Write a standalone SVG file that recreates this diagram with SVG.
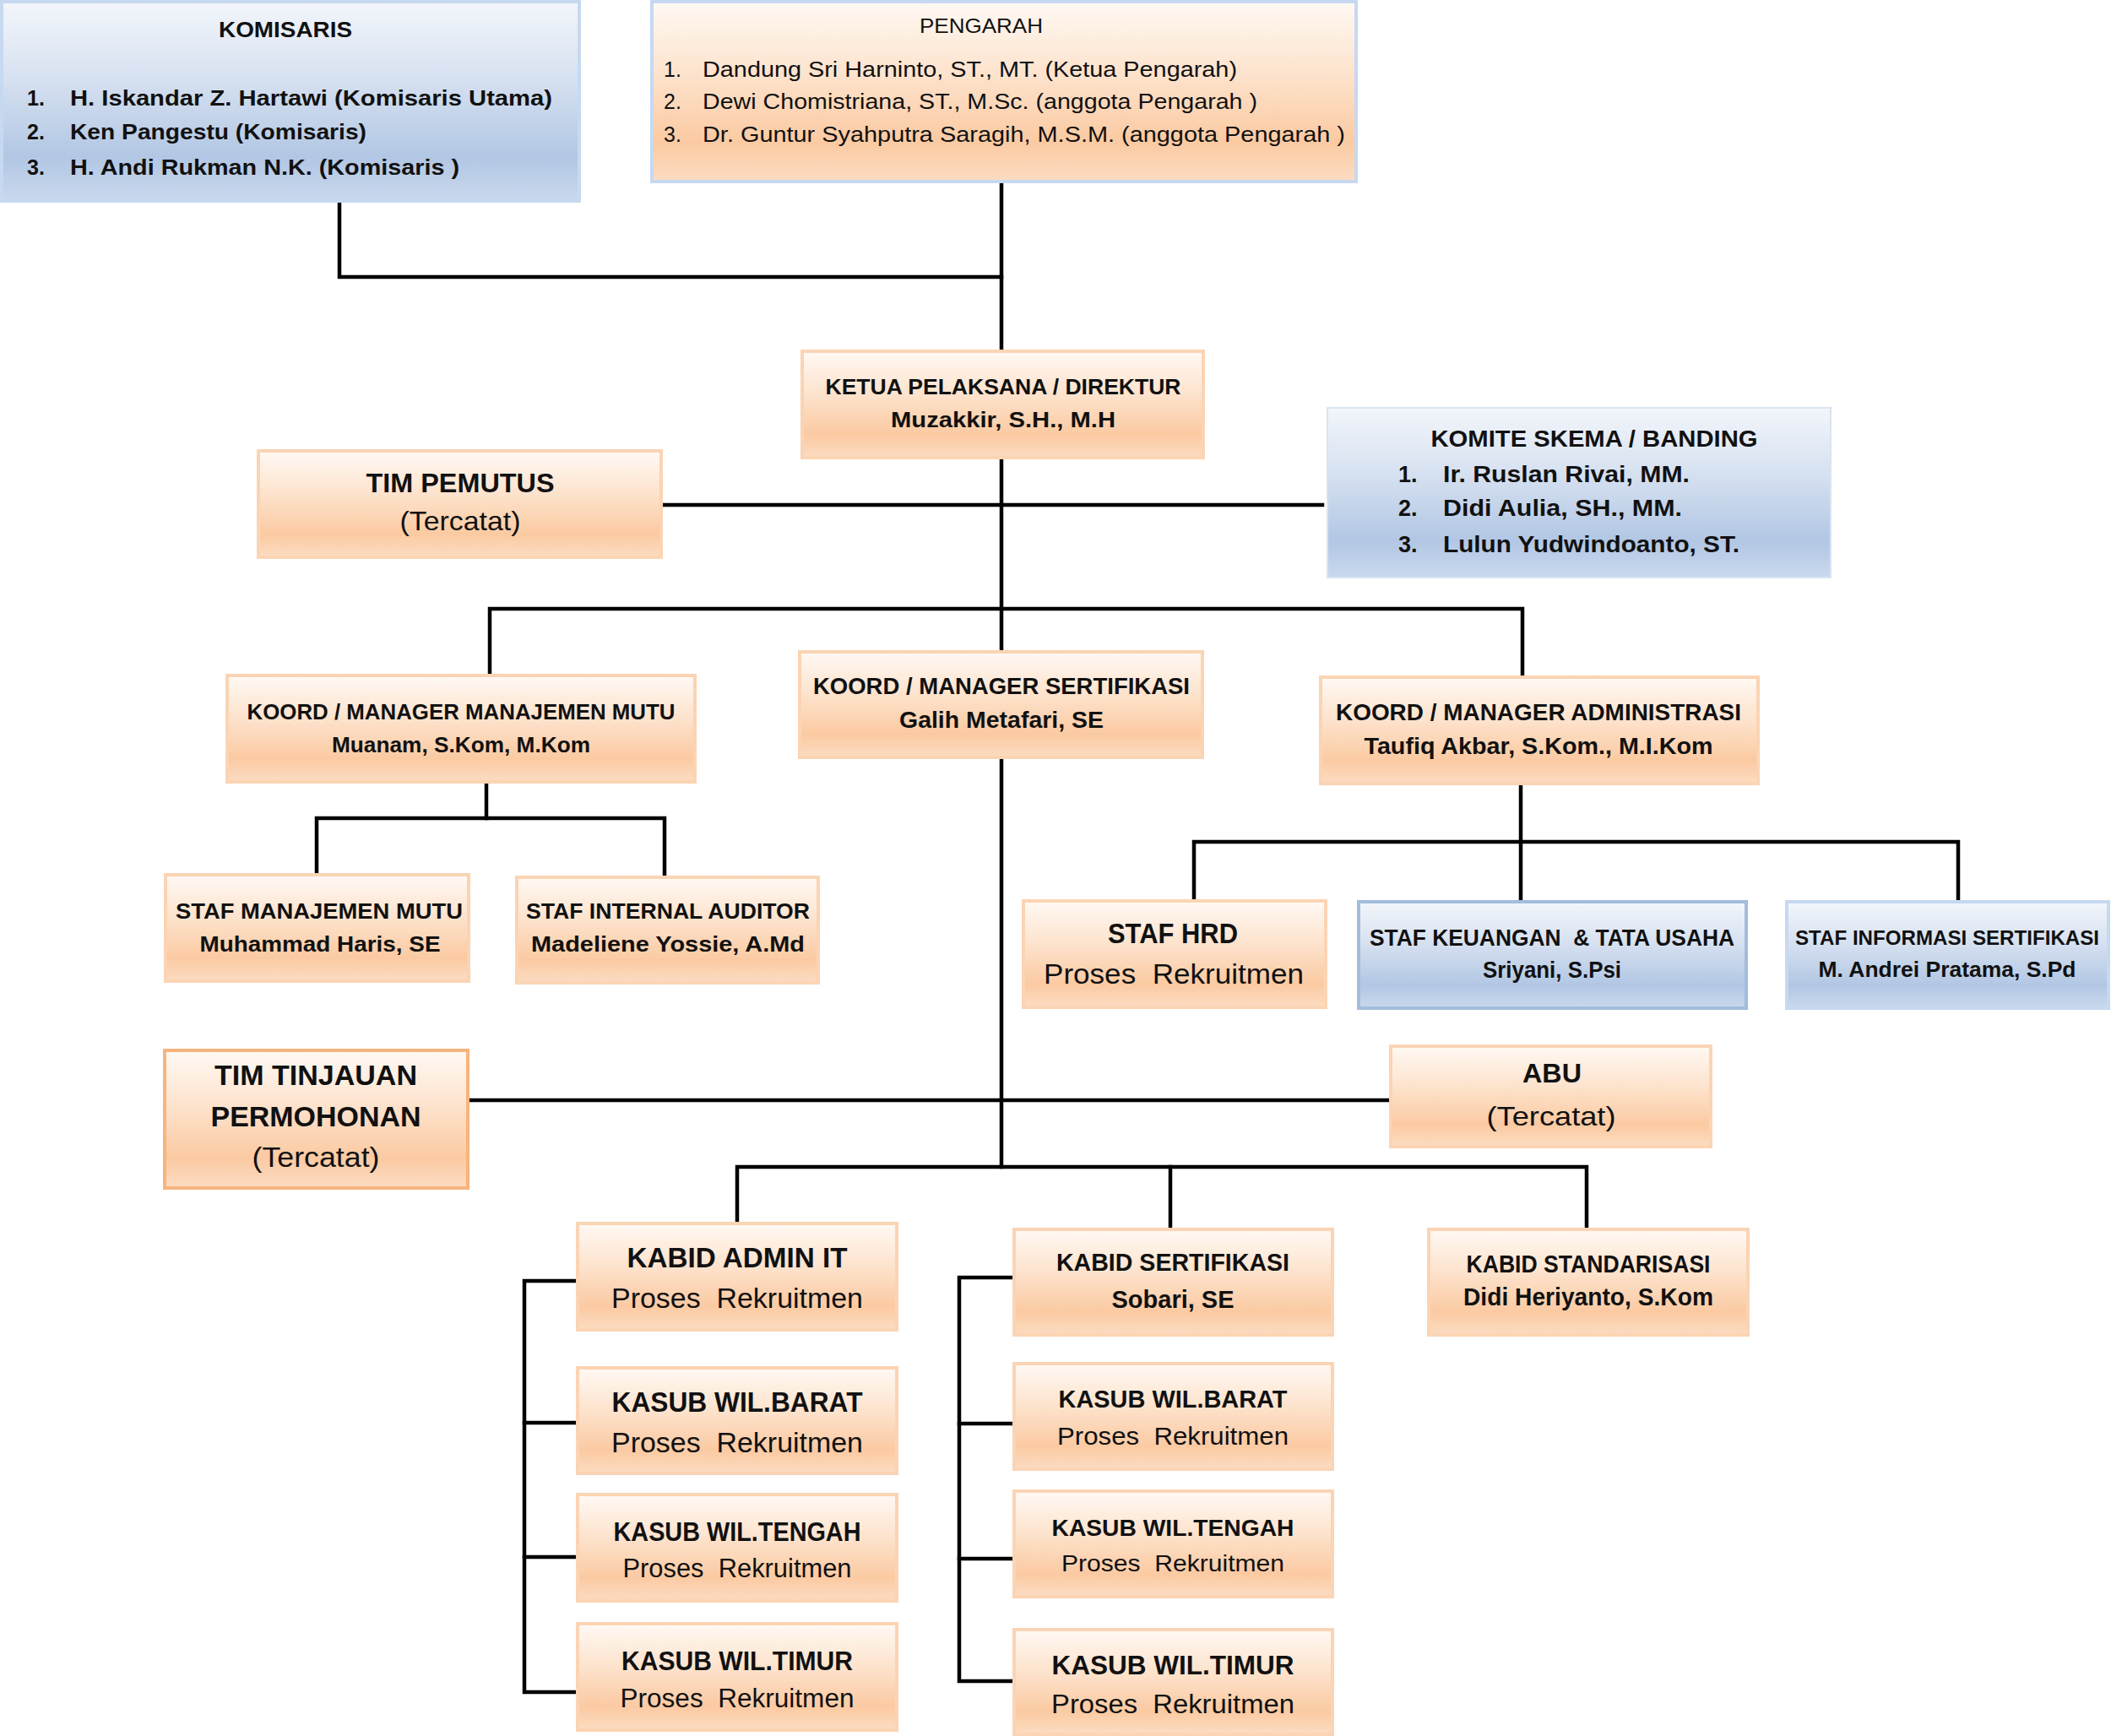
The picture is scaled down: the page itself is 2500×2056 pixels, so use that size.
<svg xmlns="http://www.w3.org/2000/svg" width="2500" height="2056" viewBox="0 0 2500 2056">
<defs>
<linearGradient id="gO" x1="0" y1="0" x2="0" y2="1">
<stop offset="0" stop-color="#fff9f4"/>
<stop offset="0.4" stop-color="#fde3cd"/>
<stop offset="0.78" stop-color="#fbcaa2"/>
<stop offset="1" stop-color="#fcdcc2"/>
</linearGradient>
<linearGradient id="gB" x1="0" y1="0" x2="0" y2="1">
<stop offset="0" stop-color="#f3f6fb"/>
<stop offset="0.4" stop-color="#d5e0f0"/>
<stop offset="0.78" stop-color="#b2c7e4"/>
<stop offset="1" stop-color="#c9d8ed"/>
</linearGradient>
<style>
text{font-family:"Liberation Sans",Arial,sans-serif;fill:#111;dominant-baseline:central;white-space:pre}
.b{font-weight:bold}
.n{font-weight:normal}
.c{text-anchor:middle}
.o{fill:url(#gO);stroke:#fbd4b4;stroke-width:4}
.ob{fill:url(#gO);stroke:#c6d9f1;stroke-width:4}
.oo{fill:url(#gO);stroke:#f8b47d;stroke-width:4}
.bl{fill:url(#gB);stroke:#c6d9f1;stroke-width:4}
.bk{fill:url(#gB);stroke:#a3bcdc;stroke-width:4}
.bn{fill:url(#gB);stroke:#d9e4f3;stroke-width:2}
#connectors path{fill:none;stroke:#000;stroke-width:4.5;stroke-linecap:square;stroke-linejoin:miter}
</style>
</defs>
<rect width="2500" height="2056" fill="#fff"/>
<g id="connectors">
<path d="M402 238V328H1186"/>
<path d="M1186 213V416"/>
<path d="M1186 542V772"/>
<path d="M783 598H1566"/>
<path d="M580 800V721H1803V802"/>
<path d="M576 926V969"/>
<path d="M375 1036V969H787V1039"/>
<path d="M1801 928V1068"/>
<path d="M1414 1067V997H2319V1068"/>
<path d="M1186 897V1382"/>
<path d="M554 1303H1647"/>
<path d="M873 1449V1382H1879V1456"/>
<path d="M1386 1382V1456"/>
<path d="M684 1517H621V2004H684"/>
<path d="M621 1685H684"/>
<path d="M621 1844H684"/>
<path d="M1201 1513H1136V1991H1201"/>
<path d="M1136 1686H1201"/>
<path d="M1136 1846H1201"/>
</g>
<g id="komisaris">
<rect class="bl" x="2" y="2" width="684" height="236"/>
<text class="b c" x="338" y="35" font-size="25" textLength="158" lengthAdjust="spacingAndGlyphs">KOMISARIS</text>
<text class="b" x="32" y="116" font-size="25">1.</text>
<text class="b" x="83" y="116" font-size="25" textLength="571" lengthAdjust="spacingAndGlyphs">H. Iskandar Z. Hartawi (Komisaris Utama)</text>
<text class="b" x="32" y="156" font-size="25">2.</text>
<text class="b" x="83" y="156" font-size="25" textLength="351" lengthAdjust="spacingAndGlyphs">Ken Pangestu (Komisaris)</text>
<text class="b" x="32" y="198" font-size="25">3.</text>
<text class="b" x="83" y="198" font-size="25" textLength="461" lengthAdjust="spacingAndGlyphs">H. Andi Rukman N.K. (Komisaris )</text>
</g>
<g id="pengarah">
<rect class="ob" x="772" y="2" width="834" height="213"/>
<text class="n c" x="1162" y="30" font-size="24" textLength="146" lengthAdjust="spacingAndGlyphs">PENGARAH</text>
<text class="n" x="786" y="82" font-size="25">1.</text>
<text class="n" x="832" y="82" font-size="25" textLength="633" lengthAdjust="spacingAndGlyphs">Dandung Sri Harninto, ST., MT. (Ketua Pengarah)</text>
<text class="n" x="786" y="120" font-size="25">2.</text>
<text class="n" x="832" y="120" font-size="25" textLength="657" lengthAdjust="spacingAndGlyphs">Dewi Chomistriana, ST., M.Sc. (anggota Pengarah )</text>
<text class="n" x="786" y="159" font-size="25">3.</text>
<text class="n" x="832" y="159" font-size="25" textLength="761" lengthAdjust="spacingAndGlyphs">Dr. Guntur Syahputra Saragih, M.S.M. (anggota Pengarah )</text>
</g>
<g id="ketua">
<rect class="o" x="950" y="416" width="475" height="126"/>
<text class="b c" x="1188" y="458" font-size="25" textLength="421" lengthAdjust="spacingAndGlyphs">KETUA PELAKSANA / DIREKTUR</text>
<text class="b c" x="1188" y="497" font-size="25" textLength="266" lengthAdjust="spacingAndGlyphs">Muzakkir, S.H., M.H</text>
</g>
<g id="tim-pemutus">
<rect class="o" x="306" y="534" width="477" height="126"/>
<text class="b c" x="545" y="572" font-size="32" textLength="223" lengthAdjust="spacingAndGlyphs">TIM PEMUTUS</text>
<text class="n c" x="545" y="617" font-size="32" textLength="143" lengthAdjust="spacingAndGlyphs">(Tercatat)</text>
</g>
<g id="komite">
<rect class="bn" x="1572" y="483" width="596" height="201"/>
<text class="b c" x="1888" y="519" font-size="28" textLength="387" lengthAdjust="spacingAndGlyphs">KOMITE SKEMA / BANDING</text>
<text class="b" x="1656" y="562" font-size="27">1.</text>
<text class="b" x="1709" y="562" font-size="27" textLength="292" lengthAdjust="spacingAndGlyphs">Ir. Ruslan Rivai, MM.</text>
<text class="b" x="1656" y="602" font-size="27">2.</text>
<text class="b" x="1709" y="602" font-size="27" textLength="283" lengthAdjust="spacingAndGlyphs">Didi Aulia, SH., MM.</text>
<text class="b" x="1656" y="645" font-size="27">3.</text>
<text class="b" x="1709" y="645" font-size="27" textLength="351" lengthAdjust="spacingAndGlyphs">Lulun Yudwindoanto, ST.</text>
</g>
<g id="koord-mutu">
<rect class="o" x="269" y="800" width="554" height="126"/>
<text class="b c" x="546" y="843" font-size="25" textLength="507" lengthAdjust="spacingAndGlyphs">KOORD / MANAGER MANAJEMEN MUTU</text>
<text class="b c" x="546" y="882" font-size="25" textLength="306" lengthAdjust="spacingAndGlyphs">Muanam, S.Kom, M.Kom</text>
</g>
<g id="koord-sertifikasi">
<rect class="o" x="947" y="772" width="477" height="125"/>
<text class="b c" x="1186" y="813" font-size="27" textLength="446" lengthAdjust="spacingAndGlyphs">KOORD / MANAGER SERTIFIKASI</text>
<text class="b c" x="1186" y="853" font-size="27" textLength="242" lengthAdjust="spacingAndGlyphs">Galih Metafari, SE</text>
</g>
<g id="koord-administrasi">
<rect class="o" x="1564" y="802" width="518" height="126"/>
<text class="b c" x="1822" y="843" font-size="28" textLength="480" lengthAdjust="spacingAndGlyphs">KOORD / MANAGER ADMINISTRASI</text>
<text class="b c" x="1822" y="883" font-size="28" textLength="413" lengthAdjust="spacingAndGlyphs">Taufiq Akbar, S.Kom., M.I.Kom</text>
</g>
<g id="staf-manajemen-mutu">
<rect class="o" x="196" y="1036" width="359" height="126"/>
<text class="b c" x="378" y="1079" font-size="26" textLength="340" lengthAdjust="spacingAndGlyphs">STAF MANAJEMEN MUTU</text>
<text class="b c" x="379" y="1118" font-size="26" textLength="285" lengthAdjust="spacingAndGlyphs">Muhammad Haris, SE</text>
</g>
<g id="staf-internal-auditor">
<rect class="o" x="612" y="1039" width="357" height="125"/>
<text class="b c" x="791" y="1079" font-size="26" textLength="336" lengthAdjust="spacingAndGlyphs">STAF INTERNAL AUDITOR</text>
<text class="b c" x="791" y="1118" font-size="26" textLength="324" lengthAdjust="spacingAndGlyphs">Madeliene Yossie, A.Md</text>
</g>
<g id="staf-hrd">
<rect class="o" x="1212" y="1067" width="358" height="126"/>
<text class="b c" x="1389" y="1105" font-size="33" textLength="154" lengthAdjust="spacingAndGlyphs">STAF HRD</text>
<text class="n c" x="1390" y="1153" font-size="33" textLength="308" lengthAdjust="spacingAndGlyphs">Proses  Rekruitmen</text>
</g>
<g id="staf-keuangan">
<rect class="bk" x="1609" y="1068" width="459" height="126"/>
<text class="b c" x="1838" y="1110" font-size="28" textLength="432" lengthAdjust="spacingAndGlyphs">STAF KEUANGAN  &amp; TATA USAHA</text>
<text class="b c" x="1838" y="1148" font-size="28" textLength="164" lengthAdjust="spacingAndGlyphs">Sriyani, S.Psi</text>
</g>
<g id="staf-informasi">
<rect class="bl" x="2116" y="1068" width="381" height="126"/>
<text class="b c" x="2306" y="1110" font-size="24" textLength="360" lengthAdjust="spacingAndGlyphs">STAF INFORMASI SERTIFIKASI</text>
<text class="b c" x="2306" y="1148" font-size="26" textLength="305" lengthAdjust="spacingAndGlyphs">M. Andrei Pratama, S.Pd</text>
</g>
<g id="tim-tinjauan">
<rect class="oo" x="195" y="1244" width="359" height="163"/>
<text class="b c" x="374" y="1273" font-size="33" textLength="240" lengthAdjust="spacingAndGlyphs">TIM TINJAUAN</text>
<text class="b c" x="374" y="1322" font-size="33" textLength="249" lengthAdjust="spacingAndGlyphs">PERMOHONAN</text>
<text class="n c" x="374" y="1370" font-size="33" textLength="151" lengthAdjust="spacingAndGlyphs">(Tercatat)</text>
</g>
<g id="abu">
<rect class="o" x="1647" y="1239" width="379" height="119"/>
<text class="b c" x="1838" y="1271" font-size="31" textLength="70" lengthAdjust="spacingAndGlyphs">ABU</text>
<text class="n c" x="1837" y="1322" font-size="32" textLength="153" lengthAdjust="spacingAndGlyphs">(Tercatat)</text>
</g>
<g id="kabid-admin-it">
<rect class="o" x="684" y="1449" width="378" height="126"/>
<text class="b c" x="873" y="1489" font-size="34" textLength="261" lengthAdjust="spacingAndGlyphs">KABID ADMIN IT</text>
<text class="n c" x="873" y="1537" font-size="34" textLength="298" lengthAdjust="spacingAndGlyphs">Proses  Rekruitmen</text>
</g>
<g id="kasub-barat-1">
<rect class="o" x="684" y="1620" width="378" height="125"/>
<text class="b c" x="873" y="1660" font-size="34" textLength="297" lengthAdjust="spacingAndGlyphs">KASUB WIL.BARAT</text>
<text class="n c" x="873" y="1708" font-size="34" textLength="298" lengthAdjust="spacingAndGlyphs">Proses  Rekruitmen</text>
</g>
<g id="kasub-tengah-1">
<rect class="o" x="684" y="1770" width="378" height="126"/>
<text class="b c" x="873" y="1814" font-size="31" textLength="293" lengthAdjust="spacingAndGlyphs">KASUB WIL.TENGAH</text>
<text class="n c" x="873" y="1857" font-size="31" textLength="271" lengthAdjust="spacingAndGlyphs">Proses  Rekruitmen</text>
</g>
<g id="kasub-timur-1">
<rect class="o" x="684" y="1923" width="378" height="126"/>
<text class="b c" x="873" y="1967" font-size="31" textLength="274" lengthAdjust="spacingAndGlyphs">KASUB WIL.TIMUR</text>
<text class="n c" x="873" y="2011" font-size="31" textLength="277" lengthAdjust="spacingAndGlyphs">Proses  Rekruitmen</text>
</g>
<g id="kabid-sertifikasi">
<rect class="o" x="1201" y="1456" width="377" height="125"/>
<text class="b c" x="1389" y="1495" font-size="29" textLength="276" lengthAdjust="spacingAndGlyphs">KABID SERTIFIKASI</text>
<text class="b c" x="1389" y="1539" font-size="29" textLength="145" lengthAdjust="spacingAndGlyphs">Sobari, SE</text>
</g>
<g id="kasub-barat-2">
<rect class="o" x="1201" y="1615" width="377" height="125"/>
<text class="b c" x="1389" y="1657" font-size="29" textLength="271" lengthAdjust="spacingAndGlyphs">KASUB WIL.BARAT</text>
<text class="n c" x="1389" y="1701" font-size="29" textLength="274" lengthAdjust="spacingAndGlyphs">Proses  Rekruitmen</text>
</g>
<g id="kasub-tengah-2">
<rect class="o" x="1201" y="1766" width="377" height="125"/>
<text class="b c" x="1389" y="1809" font-size="28" textLength="287" lengthAdjust="spacingAndGlyphs">KASUB WIL.TENGAH</text>
<text class="n c" x="1389" y="1851" font-size="28" textLength="264" lengthAdjust="spacingAndGlyphs">Proses  Rekruitmen</text>
</g>
<g id="kasub-timur-2">
<rect class="o" x="1201" y="1930" width="377" height="124"/>
<text class="b c" x="1389" y="1972" font-size="31" textLength="287" lengthAdjust="spacingAndGlyphs">KASUB WIL.TIMUR</text>
<text class="n c" x="1389" y="2018" font-size="31" textLength="288" lengthAdjust="spacingAndGlyphs">Proses  Rekruitmen</text>
</g>
<g id="kabid-standarisasi">
<rect class="o" x="1692" y="1456" width="378" height="125"/>
<text class="b c" x="1881" y="1497" font-size="29" textLength="289" lengthAdjust="spacingAndGlyphs">KABID STANDARISASI</text>
<text class="b c" x="1881" y="1536" font-size="29" textLength="296" lengthAdjust="spacingAndGlyphs">Didi Heriyanto, S.Kom</text>
</g>
</svg>
